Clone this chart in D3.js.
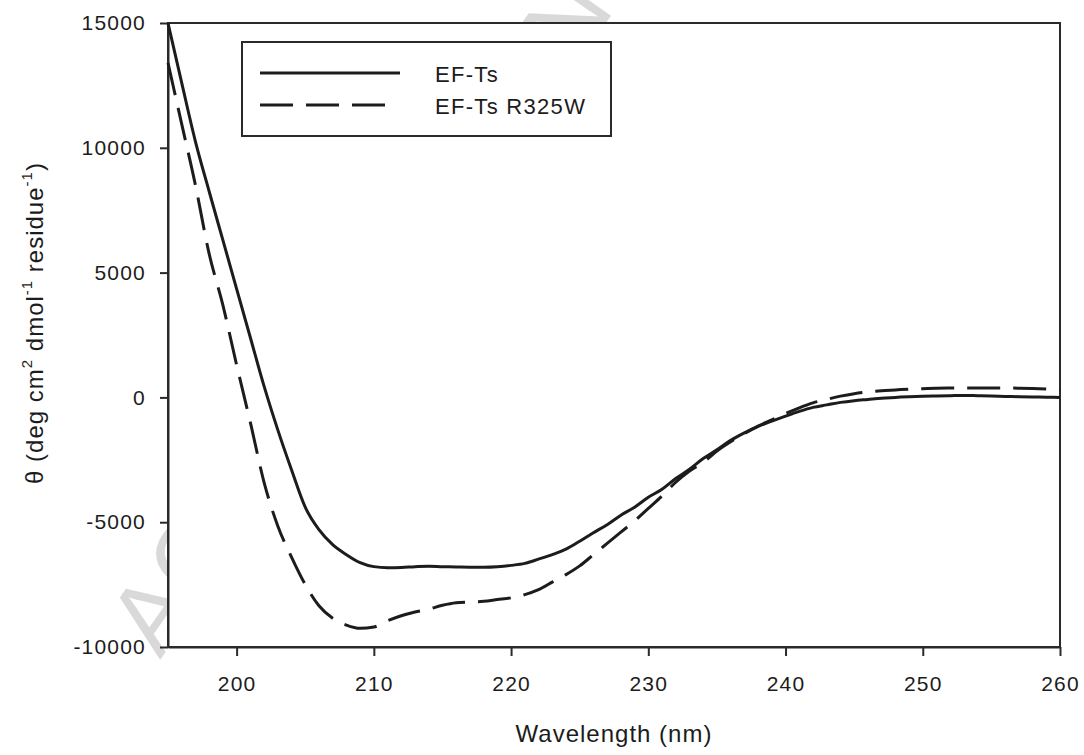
<!DOCTYPE html>
<html>
<head>
<meta charset="utf-8">
<script src="https://cdn.jsdelivr.net/npm/d3@7"></script>
<style>
  body { margin: 0; background: #fff; }
  svg { display: block; font-family: 'Liberation Sans', Arial, sans-serif; }
</style>
</head>
<body>
<div id="chart"></div>
<script>
// CD spectra, EF-Ts vs EF-Ts R325W
const wavelength = [195, 196, 197, 198, 199, 200, 201, 202, 203, 204, 205, 206, 207, 208, 209,
    210, 211, 212, 213, 214, 215, 216, 217, 218, 219, 220, 221, 222, 223, 224, 225, 226, 227,
    228, 229, 230, 231, 232, 233, 234, 235, 236, 237, 238, 239, 240, 241, 242, 243, 244, 245,
    246, 247, 248, 249, 250, 251, 252, 253, 254, 255, 256, 257, 258, 259, 260];

const efTs = [15000, 12600, 10250, 8250, 6300, 4350, 2400, 450, -1300, -2900, -4400, -5300,
    -5900, -6300, -6620, -6780, -6820, -6810, -6780, -6760, -6780, -6790, -6800, -6800, -6780,
    -6730, -6650, -6480, -6300, -6080, -5760, -5420, -5100, -4720, -4400, -4000, -3680, -3250,
    -2880, -2450, -2100, -1720, -1420, -1160, -950, -750, -560, -400, -300, -200, -130, -80,
    -30, 0, 30, 50, 60, 70, 80, 70, 60, 40, 30, 20, 10, 0];

const efTsR325W = [13400, 10950, 8500, 5750, 3700, 1300, -1000, -3400, -5150, -6400, -7500,
    -8350, -8850, -9120, -9250, -9200, -8950, -8750, -8600, -8480, -8330, -8230, -8200, -8170,
    -8100, -8030, -7900, -7700, -7400, -7100, -6750, -6300, -5850, -5400, -4950, -4450, -3950,
    -3400, -2950, -2600, -2150, -1780, -1450, -1150, -900, -650, -420, -220, -80, 50, 150, 220,
    270, 300, 330, 350, 370, 375, 380, 380, 380, 375, 370, 360, 340, 310];

const seriesNames = ['EF-Ts', 'EF-Ts R325W'];
const xTicks = [200, 210, 220, 230, 240, 250, 260];
const yTicks = [-10000, -5000, 0, 5000, 10000, 15000];

let width = 1084;
let height = 755;
let margin = {left: 168, right: 24, top: 23, bottom: 108};
let ink = '#1c1c1c';

let svg = d3.select('#chart')
    .append('svg')
    .attr('width', width)
    .attr('height', height);

// watermark, mostly hidden behind the plot area
svg.append('text')
    .attr('transform', 'translate(160,660) rotate(-55)')
    .attr('font-size', 100)
    .attr('fill', '#d9d9d9')
    .text('ACCEPTED MANUSCRIPT');

const x = d3.scaleLinear()
    .domain([195, 260])
    .range([margin.left, width - margin.right]);

const y = d3.scaleLinear()
    .domain([-10000, 15000])
    .range([height - margin.bottom, margin.top]);

// plot frame
svg.append('rect')
    .attr('x', x(195))
    .attr('y', y(15000))
    .attr('width', x(260) - x(195))
    .attr('height', y(-10000) - y(15000))
    .attr('fill', '#fff')
    .attr('stroke', '#2a2a2a')
    .attr('stroke-width', 2);

// axes
let xAxis = svg.append('g')
    .attr('transform', `translate(0,${y(-10000)})`)
    .call(d3.axisBottom(x).tickValues(xTicks).tickFormat(d => String(d))
        .tickSize(9).tickPadding(20).tickSizeOuter(0));
let yAxis = svg.append('g')
    .attr('transform', `translate(${x(195)},0)`)
    .call(d3.axisLeft(y).tickValues(yTicks).tickFormat(d => String(d))
        .tickSize(8).tickPadding(14).tickSizeOuter(0));

[xAxis, yAxis].forEach(g => {
    g.select('.domain').attr('stroke', '#2a2a2a').attr('stroke-width', 2);
    g.selectAll('.tick line').attr('stroke', '#2a2a2a').attr('stroke-width', 2);
    g.selectAll('.tick text')
        .attr('fill', ink)
        .attr('font-size', 21)
        .attr('letter-spacing', 1.2)
        .style('font-family', "'Liberation Sans', Arial, sans-serif");
});

// curves
const line = d3.line()
    .x((d, i) => x(wavelength[i]))
    .y(d => y(d))
    .curve(d3.curveMonotoneX);

svg.append('path')
    .datum(efTs)
    .attr('d', line)
    .attr('fill', 'none')
    .attr('stroke', ink)
    .attr('stroke-width', 3);

svg.append('path')
    .datum(efTsR325W)
    .attr('d', line)
    .attr('fill', 'none')
    .attr('stroke', ink)
    .attr('stroke-width', 3)
    .attr('stroke-dasharray', '33,13');

// legend
let legend = svg.append('g');
legend.append('rect')
    .attr('x', 242)
    .attr('y', 42)
    .attr('width', 369)
    .attr('height', 94)
    .attr('fill', '#fff')
    .attr('stroke', '#2a2a2a')
    .attr('stroke-width', 2);

seriesNames.forEach((name, i) => {
    let ly = 73 + i * 32;
    legend.append('line')
        .attr('x1', 260)
        .attr('x2', i == 1 ? 387 : 400)
        .attr('y1', ly)
        .attr('y2', ly)
        .attr('stroke', ink)
        .attr('stroke-width', 3)
        .attr('stroke-dasharray', i == 1 ? '33,13' : null);
    legend.append('text')
        .attr('x', 435)
        .attr('y', ly + 9)
        .attr('font-size', 22)
        .attr('letter-spacing', 1.3)
        .attr('fill', ink)
        .text(name);
});

// axis titles
svg.append('text')
    .attr('x', 614)
    .attr('y', 742)
    .attr('text-anchor', 'middle')
    .attr('font-size', 24)
    .attr('letter-spacing', 1)
    .attr('fill', ink)
    .text('Wavelength (nm)');

let yTitle = svg.append('text')
    .attr('transform', 'translate(43,323) rotate(-90)')
    .attr('text-anchor', 'middle')
    .attr('font-size', 24)
    .attr('letter-spacing', 1)
    .attr('fill', ink);
yTitle.append('tspan').text('\u03b8 (deg cm');
yTitle.append('tspan').attr('font-size', 15).attr('dy', -11).text('2');
yTitle.append('tspan').attr('dy', 11).text(' dmol');
yTitle.append('tspan').attr('font-size', 15).attr('dy', -11).text('-1');
yTitle.append('tspan').attr('dy', 11).text(' residue');
yTitle.append('tspan').attr('font-size', 15).attr('dy', -11).text('-1');
yTitle.append('tspan').attr('dy', 11).text(')');
</script>
</body>
</html>
